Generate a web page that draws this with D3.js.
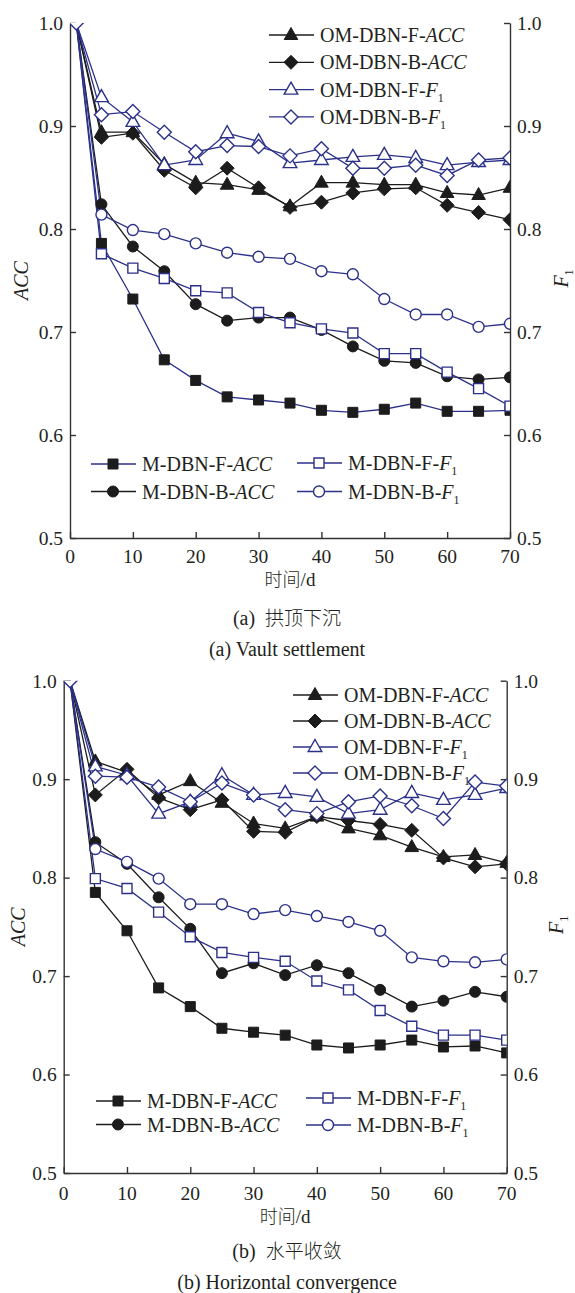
<!DOCTYPE html>
<html>
<head>
<meta charset="utf-8">
<script src="https://cdn.jsdelivr.net/npm/d3@7"></script>
<style>
  body { margin: 0; background: #fff; }
  svg { display: block; }
  text { font-family: "Liberation Serif", "Times New Roman", serif; fill: #231f20; white-space: pre; }
  .cjk { font-family: "Noto Sans CJK SC", sans-serif; font-weight: 300; }
</style>
</head>
<body>
<svg id="chart"></svg>
<script>
// days on the x axis (shared by both panels)
var days = [1, 5, 10, 15, 20, 25, 30, 35, 40, 45, 50, 55, 60, 65, 70]
var xTicks = [0, 10, 20, 30, 40, 50, 60, 70]
var yTicks = [0.5, 0.6, 0.7, 0.8, 0.9, 1.0]

// (a) vault settlement
var aOmFAcc = [1, 0.894, 0.894, 0.863, 0.845, 0.843, 0.838, 0.822, 0.845, 0.845, 0.843, 0.843, 0.835, 0.833, 0.840]
var aOmBAcc = [1, 0.889, 0.893, 0.857, 0.840, 0.859, 0.840, 0.821, 0.826, 0.835, 0.839, 0.840, 0.823, 0.816, 0.809]
var aOmFF1 = [1, 0.928, 0.904, 0.862, 0.867, 0.893, 0.885, 0.864, 0.867, 0.870, 0.872, 0.869, 0.862, 0.865, 0.867]
var aOmBF1 = [1, 0.911, 0.914, 0.894, 0.875, 0.881, 0.880, 0.871, 0.878, 0.859, 0.859, 0.862, 0.852, 0.867, 0.869]
var aMFAcc = [1, 0.786, 0.732, 0.673, 0.653, 0.637, 0.634, 0.631, 0.624, 0.622, 0.625, 0.631, 0.623, 0.623, 0.624]
var aMBAcc = [1, 0.824, 0.783, 0.759, 0.727, 0.711, 0.714, 0.714, 0.702, 0.686, 0.672, 0.670, 0.657, 0.654, 0.656]
var aMFF1 = [1, 0.776, 0.762, 0.752, 0.740, 0.738, 0.719, 0.709, 0.703, 0.699, 0.679, 0.679, 0.661, 0.645, 0.628]
var aMBF1 = [1, 0.814, 0.799, 0.795, 0.786, 0.777, 0.773, 0.771, 0.759, 0.756, 0.732, 0.717, 0.717, 0.705, 0.708]

// (b) horizontal convergence
var bOmFAcc = [1, 0.918, 0.907, 0.884, 0.898, 0.876, 0.855, 0.850, 0.862, 0.850, 0.843, 0.831, 0.821, 0.823, 0.815]
var bOmBAcc = [1, 0.884, 0.910, 0.881, 0.869, 0.879, 0.847, 0.846, 0.862, 0.858, 0.854, 0.848, 0.820, 0.811, 0.814]
var bOmFF1 = [1, 0.913, 0.904, 0.865, 0.877, 0.904, 0.884, 0.886, 0.882, 0.865, 0.869, 0.886, 0.879, 0.884, 0.891]
var bOmBF1 = [1, 0.903, 0.902, 0.892, 0.877, 0.896, 0.884, 0.869, 0.865, 0.877, 0.883, 0.873, 0.860, 0.897, 0.893]
var bMFAcc = [1, 0.785, 0.746, 0.688, 0.669, 0.647, 0.643, 0.640, 0.630, 0.627, 0.630, 0.635, 0.628, 0.629, 0.622]
var bMBAcc = [1, 0.836, 0.814, 0.780, 0.748, 0.703, 0.713, 0.701, 0.711, 0.703, 0.686, 0.669, 0.675, 0.684, 0.679]
var bMFF1 = [1, 0.799, 0.789, 0.765, 0.740, 0.724, 0.719, 0.715, 0.695, 0.686, 0.665, 0.649, 0.640, 0.640, 0.635]
var bMBF1 = [1, 0.829, 0.816, 0.799, 0.773, 0.773, 0.763, 0.767, 0.761, 0.755, 0.746, 0.719, 0.715, 0.714, 0.717]

var BLUE = "#2b3189"
var BLACK = "#1c1c1c"

var svg = d3.select("#chart").attr("width", 575).attr("height", 1293)

// marker shapes, centred on 0,0
var shapes = {
    square: "M-5,-5H5V5H-5Z",
    circle: "M5.5,0A5.5,5.5 0 1,1 -5.5,0A5.5,5.5 0 1,1 5.5,0Z",
    triangle: "M0,-7.5L6.8,4.5H-6.8Z",
    diamond: "M0,-7L7,0L0,7L-7,0Z"
}

function labelParts(g, prefix, metric) {
    g.append("tspan").text(prefix)
    if (metric == "ACC") {
        g.append("tspan").attr("font-style", "italic").text("ACC")
    } else {
        g.append("tspan").attr("font-style", "italic").text("F")
        g.append("tspan").attr("font-size", 12).attr("dy", 5).text("1")
    }
}

function drawPanel(p) {
    var xScale = d3.scaleLinear().domain([0, 70]).range([p.left, p.right])
    var yScale = d3.scaleLinear().domain([0.5, 1.0]).range([p.bottom, p.top])

    var g = svg.append("g")
    var clipId = "clip" + p.id
    g.append("clipPath").attr("id", clipId)
        .append("rect")
        .attr("x", p.left).attr("y", p.top)
        .attr("width", p.right - p.left).attr("height", p.bottom - p.top)

    // axes: ticks point inward
    g.append("g")
        .attr("transform", `translate(0,${p.bottom})`)
        .call(d3.axisTop(xScale).tickValues(xTicks).tickSizeInner(6).tickSizeOuter(0).tickFormat(""))
    g.append("g")
        .attr("transform", `translate(${p.left},0)`)
        .call(d3.axisRight(yScale).tickValues(yTicks).tickSizeInner(6).tickSizeOuter(0).tickFormat(""))
    g.append("g")
        .attr("transform", `translate(${p.right},0)`)
        .call(d3.axisLeft(yScale).tickValues(yTicks).tickSizeInner(6).tickSizeOuter(0).tickFormat(""))
    g.selectAll(".domain, .tick line").attr("stroke", "#333").attr("stroke-width", 1.4)

    // tick labels
    g.selectAll(".xlab").data(xTicks).enter().append("text")
        .attr("x", d => xScale(d)).attr("y", p.bottom + p.xLabOff)
        .attr("text-anchor", "middle").attr("font-size", 19.5).text(d => d)
    g.selectAll(".ylabl").data(yTicks).enter().append("text")
        .attr("x", p.left - 7).attr("y", d => yScale(d)).attr("dy", "0.35em")
        .attr("text-anchor", "end").attr("font-size", 19.5).text(d => d.toFixed(1))
    g.selectAll(".ylabr").data(yTicks).enter().append("text")
        .attr("x", p.right + 7).attr("y", d => yScale(d)).attr("dy", "0.35em")
        .attr("text-anchor", "start").attr("font-size", 19.5).text(d => d.toFixed(1))

    // axis titles
    g.append("text").attr("font-style", "italic").attr("font-size", 20)
        .attr("text-anchor", "middle")
        .attr("transform", `translate(${p.left - p.accOff},${(p.top + p.bottom) / 2}) rotate(-90)`)
        .text("ACC")
    var f1 = g.append("text").attr("font-size", 20).attr("text-anchor", "middle")
        .attr("transform", `translate(${p.right + p.f1Off},${(p.top + p.bottom) / 2 - 2}) rotate(-90)`)
    f1.append("tspan").attr("font-style", "italic").text("F")
    f1.append("tspan").attr("font-size", 12).attr("dy", 5).text("1")

    var xl = g.append("text").attr("x", (p.left + p.right) / 2).attr("y", p.bottom + p.xTitleOff)
        .attr("text-anchor", "middle").attr("font-size", 19)
    xl.append("tspan").attr("class", "cjk").attr("font-size", 18).text("时间")
    xl.append("tspan").text("/d")

    g.append("text").attr("x", 287).attr("y", p.bottom + p.capOff1)
        .attr("text-anchor", "middle").attr("font-size", 20)
        .call(t => {
            t.append("tspan").text(p.tag + "  ")
            t.append("tspan").attr("class", "cjk").attr("font-size", 19).text(p.zh)
        })
    g.append("text").attr("x", 287).attr("y", p.bottom + p.capOff2)
        .attr("text-anchor", "middle").attr("font-size", 20)
        .text(p.tag + " " + p.en)

    // lines and markers
    var line = d3.line().x(d => xScale(d.x)).y(d => yScale(d.y))
    var plot = g.append("g").attr("clip-path", `url(#${clipId})`)
    p.series.forEach(function (s) {
        var pts = days.map((x, i) => ({ x: x, y: s.values[i] }))
        plot.append("path").datum(pts)
            .attr("d", line).attr("fill", "none")
            .attr("stroke", s.line).attr("stroke-width", 1.3)
    })
    p.series.forEach(function (s) {
        var pts = days.map((x, i) => ({ x: x, y: s.values[i] }))
        if (!s.firstMark) pts = pts.slice(1)
        plot.selectAll(null).data(pts).enter().append("path")
            .attr("d", shapes[s.shape])
            .attr("transform", d => `translate(${xScale(d.x)},${yScale(d.y)})`)
            .attr("fill", s.open ? "#fff" : BLACK)
            .attr("stroke", s.open ? BLUE : BLACK)
            .attr("stroke-width", s.open ? 1.4 : 1)
    })

    // legends
    p.legends.forEach(function (lg) {
        lg.items.forEach(function (s, i) {
            var y = lg.y + i * lg.step
            g.append("line").attr("x1", lg.x).attr("x2", lg.x + 45)
                .attr("y1", y).attr("y2", y)
                .attr("stroke", s.line).attr("stroke-width", 1.3)
            g.append("path").attr("d", shapes[s.shape])
                .attr("transform", `translate(${lg.x + 22},${y})`)
                .attr("fill", s.open ? "#fff" : BLACK)
                .attr("stroke", s.open ? BLUE : BLACK)
                .attr("stroke-width", s.open ? 1.4 : 1)
            var t = g.append("text").attr("x", lg.x + 51).attr("y", y).attr("dy", "0.35em")
                .attr("font-size", 20)
            labelParts(t, s.prefix, s.metric)
        })
    })
}

function makeSeries(v, mLine) {
    return {
        mF: { prefix: "M-DBN-F-", metric: "ACC", values: v[0], shape: "square", open: false, line: mLine },
        mB: { prefix: "M-DBN-B-", metric: "ACC", values: v[1], shape: "circle", open: false, line: BLACK },
        mFF: { prefix: "M-DBN-F-", metric: "F1", values: v[2], shape: "square", open: true, line: BLUE },
        mBF: { prefix: "M-DBN-B-", metric: "F1", values: v[3], shape: "circle", open: true, line: BLUE },
        oF: { prefix: "OM-DBN-F-", metric: "ACC", values: v[4], shape: "triangle", open: false, line: BLACK },
        oB: { prefix: "OM-DBN-B-", metric: "ACC", values: v[5], shape: "diamond", open: false, line: BLACK },
        oFF: { prefix: "OM-DBN-F-", metric: "F1", values: v[6], shape: "triangle", open: true, line: BLUE },
        oBF: { prefix: "OM-DBN-B-", metric: "F1", values: v[7], shape: "diamond", open: true, line: BLUE, firstMark: true }
    }
}

var sa = makeSeries([aMFAcc, aMBAcc, aMFF1, aMBF1, aOmFAcc, aOmBAcc, aOmFF1, aOmBF1], BLUE)
drawPanel({
    id: "a", left: 70, right: 510, top: 23, bottom: 538,
    xLabOff: 25, xTitleOff: 48, capOff1: 87, capOff2: 118, accOff: 42, f1Off: 58,
    tag: "(a)", zh: "拱顶下沉", en: "Vault settlement",
    series: [sa.mF, sa.mB, sa.oF, sa.oB, sa.mFF, sa.mBF, sa.oFF, sa.oBF],
    legends: [
        { x: 269, y: 35, step: 27.3, items: [sa.oF, sa.oB, sa.oFF, sa.oBF] },
        { x: 91, y: 464, step: 27.5, items: [sa.mF, sa.mB] },
        { x: 297, y: 463, step: 28.5, items: [sa.mFF, sa.mBF] }
    ]
})

var sb = makeSeries([bMFAcc, bMBAcc, bMFF1, bMBF1, bOmFAcc, bOmBAcc, bOmFF1, bOmBF1], BLACK)
drawPanel({
    id: "b", left: 63.7, right: 506.7, top: 680.7, bottom: 1173,
    xLabOff: 27, xTitleOff: 50, capOff1: 85, capOff2: 116, accOff: 39, f1Off: 56,
    tag: "(b)", zh: "水平收敛", en: "Horizontal convergence",
    series: [sb.mF, sb.mB, sb.oF, sb.oB, sb.mFF, sb.mBF, sb.oFF, sb.oBF],
    legends: [
        { x: 293, y: 695, step: 26, items: [sb.oF, sb.oB, sb.oFF, sb.oBF] },
        { x: 96, y: 1101, step: 23.5, items: [sb.mF, sb.mB] },
        { x: 306, y: 1098, step: 27, items: [sb.mFF, sb.mBF] }
    ]
})
</script>
</body>
</html>
